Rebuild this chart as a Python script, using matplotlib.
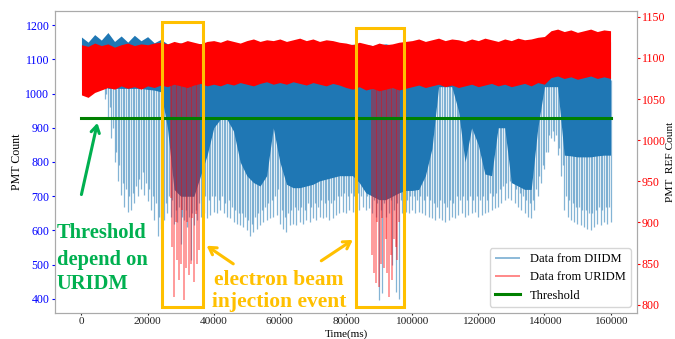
import numpy as np
import matplotlib.pyplot as plt
from matplotlib.patches import Rectangle

plt.rcParams['font.family'] = ['Liberation Serif', 'DejaVu Serif']

# sample grids in ms
t_env = np.arange(0, 160001, 2000)
t_spk = np.arange(0, 160001, 1000)
t_mid = np.arange(500, 160000, 1000)

# DIIDM (left axis): top of the band, bottom of the dense part, spike tips
blue_top = [1165, 1150, 1172, 1156, 1178, 1152, 1168, 1150, 1170, 1154,
            1166, 1148, 1158, 1145, 1142, 1148, 1140, 1144, 1146, 1140,
            1142, 1140, 1145, 1141, 1143, 1140, 1146, 1142, 1140, 1144,
            1141, 1143, 1140, 1142, 1145, 1140, 1143, 1141, 1148, 1142,
            1140, 1144, 1141, 1143, 1140, 1142, 1145, 1141, 1143, 1140,
            1142, 1144, 1140, 1143, 1141, 1145, 1142, 1140, 1143, 1141,
            1144, 1142, 1140, 1143, 1141, 1145, 1142, 1140, 1143, 1141,
            1150, 1152, 1148, 1151, 1149, 1153, 1150, 1148, 1152, 1150,
            1151]
blue_solid = [1040, 1040, 1040, 1040, 1015, 1015, 1015, 1015, 1015, 1015,
              1012, 1010, 1005, 900, 720, 700, 700, 700, 760, 820,
              900, 925, 925, 890, 800, 760, 740, 730, 760, 900,
              800, 735, 725, 725, 730, 735, 745, 750, 755, 760,
              760, 760, 740, 710, 700, 690, 690, 700, 710, 717,
              717, 720, 760, 840, 1020, 1020, 1020, 950, 800, 900,
              850, 765, 760, 900, 900, 740, 730, 720, 720, 900,
              1020, 1020, 1020, 820, 818, 815, 815, 815, 818, 820,
              820]
# spike tips on whole seconds
blue_tip = [1040, 1040, 1040, 1040, 1040, 1040, 1040, 985, 930, 870,
            800, 745, 705, 670, 655, 660, 680, 700, 720, 705,
            685, 660, 630, 585, 605, 630, 650, 640, 620, 625,
            560, 630, 610, 515, 615, 630, 640, 650, 635, 645,
            655, 650, 660, 650, 640, 635, 625, 620, 615, 610,
            600, 585, 595, 605, 615, 625, 630, 635, 640, 645,
            620, 605, 595, 615, 620, 615, 625, 620, 630, 625,
            635, 630, 640, 635, 640, 630, 635, 645, 650, 655,
            650, 660, 655, 665, 660, 670, 660, 665, 650, 640,
            396, 416, 640, 650, 500, 420, 400, 650, 655, 650,
            660, 650, 655, 650, 645, 640, 635, 630, 635, 630,
            625, 630, 640, 635, 645, 650, 640, 645, 650, 655,
            640, 645, 650, 655, 660, 665, 670, 680, 690, 695,
            690, 680, 670, 660, 650, 640, 635, 660, 700, 740,
            780, 830, 870, 860, 820, 760, 660, 640, 630, 625,
            620, 615, 610, 605, 600, 610, 620, 615, 625, 620,
            625]
# spike tips on the half seconds
blue_tip_mid = [1040, 1040, 1040, 1040, 1040, 1040, 1040, 1000, 960, 900,
                830, 790, 740, 720, 700, 710, 730, 750, 770, 740,
                720, 700, 680, 640, 650, 680, 700, 690, 660, 670,
                640, 660, 640, 650, 660, 680, 690, 700, 690, 700,
                700, 690, 700, 680, 690, 670, 660, 650, 650, 640,
                630, 620, 640, 650, 660, 670, 680, 690, 700, 720,
                660, 640, 650, 660, 670, 660, 670, 660, 680, 670,
                680, 670, 690, 680, 690, 680, 690, 700, 700, 710,
                700, 710, 700, 710, 700, 720, 700, 710, 690, 680,
                660, 680, 700, 690, 660, 680, 690, 700, 690, 700,
                700, 690, 700, 690, 700, 690, 680, 670, 690, 680,
                670, 690, 680, 700, 690, 700, 690, 700, 690, 700,
                690, 700, 690, 710, 700, 710, 720, 730, 740, 745,
                740, 720, 710, 700, 690, 680, 690, 720, 760, 790,
                830, 880, 890, 880, 840, 790, 700, 690, 680, 670,
                670, 660, 660, 650, 650, 660, 670, 660, 670, 670]

# URIDM (right axis): band edges
red_top = [1116, 1114, 1118, 1115, 1117, 1113, 1116, 1118, 1115, 1117,
           1116, 1118, 1119, 1117, 1120, 1118, 1121, 1119, 1117, 1120,
           1121, 1119, 1122, 1120, 1118, 1121, 1123, 1120, 1122, 1121,
           1123, 1120, 1122, 1124, 1121, 1123, 1120, 1122, 1121, 1119,
           1118, 1116, 1119, 1117, 1115, 1118, 1116, 1117, 1119, 1120,
           1121, 1123, 1120, 1122, 1124, 1121, 1123, 1122, 1120, 1123,
           1121, 1124, 1122, 1120, 1123, 1121, 1124, 1122, 1123, 1125,
           1126, 1133, 1135, 1132, 1134, 1131, 1133, 1135, 1132, 1134,
           1133]
red_bot = [1055, 1052, 1058, 1061, 1064, 1062, 1066, 1063, 1065, 1062,
           1066, 1064, 1067, 1065, 1068, 1066, 1064, 1067, 1069, 1066,
           1068, 1066, 1069, 1067, 1070, 1068, 1066, 1069, 1071, 1068,
           1070, 1068, 1071, 1069, 1067, 1070, 1068, 1066, 1069, 1067,
           1064, 1062, 1065, 1061, 1063, 1060, 1062, 1064, 1061, 1063,
           1065, 1067, 1064, 1066, 1068, 1065, 1067, 1064, 1066, 1068,
           1065, 1067, 1069, 1066, 1068, 1065, 1067, 1069, 1066, 1070,
           1068, 1076, 1078, 1075, 1077, 1074, 1076, 1078, 1075, 1077,
           1075]

# injection events: URIDM drop-outs
ev1_t = np.arange(27000, 35501, 500)
ev1_low = [930, 870, 810, 900, 855, 830, 850, 915, 806,
           845, 900, 836, 850, 905, 828, 910, 850, 867]
ev2_t = np.arange(88000, 96001, 500)
ev2_low = [860, 838, 826, 900, 822, 850, 905, 845, 880,
           838, 810, 860, 830, 880, 870, 855, 900]

threshold = 1027

fig = plt.figure(figsize=(6.75, 3.39), dpi=100)
ax1 = fig.add_axes([0.0815, 0.0767, 0.8622, 0.8909])
ax2 = ax1.twinx()

# DIIDM
spk_blue = ax1.vlines(np.concatenate([t_spk, t_mid]),
                      np.concatenate([blue_tip, blue_tip_mid]), 1040,
                      color='#1f77b4', alpha=0.55, lw=0.9,
                      label='Data from DIIDM')
ax1.fill_between(t_env, blue_solid, blue_top, color='#1f77b4', lw=0)

# URIDM
ax2.fill_between(t_env, red_bot, red_top, color='red', lw=0)
spk_red = ax2.vlines(ev1_t, ev1_low, 1070, color='red', alpha=0.5, lw=1.1,
                     label='Data from URIDM')
ax2.vlines(ev2_t, ev2_low, 1070, color='red', alpha=0.5, lw=1.1)
thr, = ax2.plot([0, 160000], [threshold, threshold], color='green', lw=2.2,
                label='Threshold')

ax1.set_xlim(-8000, 168000)
ax1.set_ylim(359, 1241)
ax2.set_ylim(790, 1157)
ax1.set_xticks(np.arange(0, 160001, 20000))
ax1.set_yticks(np.arange(400, 1201, 100))
ax2.set_yticks(np.arange(800, 1151, 50))

ax1.tick_params(axis='y', colors='blue', labelsize=8.6, length=2.5, pad=1.5)
ax1.tick_params(axis='x', labelsize=8.2, length=1.5, pad=1.2, colors='#222222')
ax2.tick_params(axis='y', colors='red', labelsize=8.6, length=2.5, pad=1)
for ax in (ax1, ax2):
    for s in ax.spines.values():
        s.set_color('#aaaaaa')

ax1.set_xlabel('Time(ms)', fontsize=8, va='bottom')
ax1.xaxis.set_label_coords(0.5, -0.085)
ax1.set_ylabel('PMT Count', fontsize=8.6, labelpad=2)
ax2.set_ylabel('PMT  REF Count', fontsize=8.2, labelpad=0)

leg = ax2.legend(handles=[spk_blue, spk_red, thr], loc='lower right',
                 fontsize=9, borderaxespad=0.5)
for h in leg.legend_handles[:2]:
    h.set_linewidth(1.3)

# event boxes
yel = '#ffc000'
grn = '#00b050'
ax2.add_patch(Rectangle((24400, 797), 12400, 347, fill=False, ec=yel, lw=2.2,
                        zorder=5))
ax2.add_patch(Rectangle((83000, 797), 14600, 339, fill=False, ec=yel, lw=2.2,
                        zorder=5))

# arrows (left-axis data units)
ax1.annotate('', xy=(5000, 922), xytext=(-200, 697),
             arrowprops=dict(arrowstyle='->,head_length=0.5,head_width=0.3',
                             color=grn, lw=2.2))
ax2.annotate('', xy=(37160, 560), xytext=(46600, 498), xycoords=ax1.transData,
             textcoords=ax1.transData,
             arrowprops=dict(arrowstyle='->,head_length=0.5,head_width=0.3',
                             color=yel, lw=2.2))
ax2.annotate('', xy=(82760, 577), xytext=(71830, 507), xycoords=ax1.transData,
             textcoords=ax1.transData,
             arrowprops=dict(arrowstyle='->,head_length=0.5,head_width=0.3',
                             color=yel, lw=2.2))

W, H = 675, 339
for s, y in [('Threshold', 238.3), ('depend on', 265), ('URIDM', 289.3)]:
    fig.text(57 / W, 1 - y / H, s, color=grn, fontsize=14.8,
             fontweight='bold', va='baseline', ha='left')
for s, y in [('electron beam', 285), ('injection event', 307.3)]:
    fig.text(279 / W, 1 - y / H, s, color=yel, fontsize=15.5,
             fontweight='bold', va='baseline', ha='center')

fig.savefig('out.png', dpi=100)
